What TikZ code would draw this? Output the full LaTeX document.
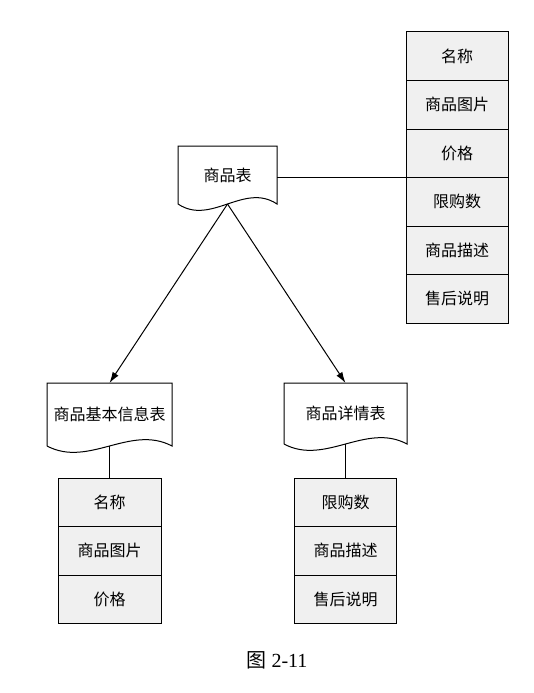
\documentclass[tikz,border=0pt]{standalone}
\usepackage{fontspec}
\setmainfont{Liberation Serif}
\newfontfamily\cjk{Noto Sans CJK SC}
\usetikzlibrary{arrows.meta,positioning}
\newcommand\docpath[2]{\draw[link] (#1.south west) -- (#1.north west) -- (#1.north east) -- (#1.south east) .. controls +(-#2,-22) and +(#2,22) .. (#1.south west);}
\begin{document}
\begin{tikzpicture}[x=1pt,y=-1pt,
  docbox/.style={inner sep=0pt, outer sep=0pt, font=\cjk\fontsize{16}{19}\selectfont},
  cell/.style={draw, line width=1pt, fill=gray!12, minimum width=102pt, minimum height=48.5pt, inner sep=0pt, outer sep=0pt, font=\cjk\fontsize{16}{19}\selectfont},
  link/.style={line width=1pt},
  arrow/.style={line width=1pt, -{Latex[length=11pt,width=7pt]}}]
\useasboundingbox (0,0) rectangle (534,693);
% top document
\node[docbox, minimum width=99pt, minimum height=58pt] (t) at (227.5,175) {商品表};
\docpath{t}{33}
% right table
\node[cell] (r1) at (457,56.25) {名称};
\node[cell, below=0pt of r1] (r2) {商品图片};
\node[cell, below=0pt of r2] (r3) {价格};
\node[cell, below=0pt of r3] (r4) {限购数};
\node[cell, below=0pt of r4] (r5) {商品描述};
\node[cell, below=0pt of r5] (r6) {售后说明};
\draw[link] (t.east |- r3.south) -- (r3.south west);
% lower documents
\node[docbox, minimum width=125pt, minimum height=63pt] (bd) at (109.5,414.5) {商品基本信息表};
\docpath{bd}{41.7}
\node[docbox, minimum width=123pt, minimum height=61pt] (dd) at (345.5,413.5) {商品详情表};
\docpath{dd}{41}
\draw[arrow] (t.south) -- (bd.north);
\draw[arrow] (t.south) -- (dd.north);
% left table
\node[cell, minimum width=103pt] (b1) at (109.5,502.25) {名称};
\node[cell, minimum width=103pt, below=0pt of b1] (b2) {商品图片};
\node[cell, minimum width=103pt, below=0pt of b2] (b3) {价格};
\draw[link] (bd.south) -- (b1.north);
% right lower table
\node[cell] (d1) at (345.5,502.25) {限购数};
\node[cell, below=0pt of d1] (d2) {商品描述};
\node[cell, below=0pt of d2] (d3) {售后说明};
\draw[link] (dd.south) -- (d1.north);
% caption
\node[font=\fontsize{20}{24}\selectfont] (cap) at (277,660) {{\cjk 图}\hspace{5pt}2-11};
\end{tikzpicture}
\end{document}
